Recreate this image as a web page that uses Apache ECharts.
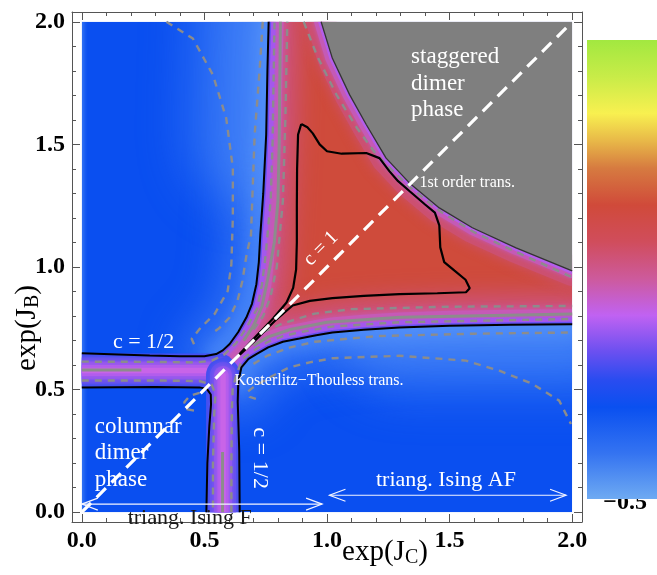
<!DOCTYPE html>
<html>
<head>
<meta charset="utf-8">
<script src="https://cdn.jsdelivr.net/npm/echarts@6/dist/echarts.min.js"></script>
<style>
  html, body { margin: 0; padding: 0; background: #fff; }
  #chart { width: 657px; height: 575px; }
</style>
</head>
<body>
<div id="chart"></div>
<script>
// tick values of the frame and of the colour bar
const majorTicks = [0, 0.5, 1.0, 1.5, 2.0];
const minorTicks = [0, 0.1, 0.2, 0.3, 0.4, 0.5, 0.6, 0.7, 0.8, 0.9, 1.0,
                    1.1, 1.2, 1.3, 1.4, 1.5, 1.6, 1.7, 1.8, 1.9, 2.0];
const barTicks = [-0.5, 0, 0.5, 1.0, 1.5, 2.0];

// colour scale (value -> colour)
const scaleValues = [-0.5, -0.25, 0.0, 0.15, 0.3, 0.5, 0.7, 0.9, 1.1, 1.3, 1.45, 1.6, 1.8, 2.0];
const scaleColors = ['#6eaaf2', '#3473f1', '#0a50f0', '#2a4cf0', '#6a50f0', '#c062f2', '#cd5a9c',
                     '#d04d5c', '#d04a3a', '#d67a40', '#e8b848', '#f8f050', '#c8ec48', '#a2e840'];

// black phase boundaries (exp(J_C), exp(J_B))
const lineUpperLeft = [[0.762, 2.0], [0.757, 1.80], [0.752, 1.54], [0.740, 1.30], [0.728, 1.13],
  [0.722, 1.02], [0.712, 0.93], [0.694, 0.85], [0.671, 0.794], [0.638, 0.735], [0.603, 0.686],
  [0.575, 0.660], [0.548, 0.645], [0.50, 0.636], [0.40, 0.636], [0.277, 0.639], [0.15, 0.643], [0.0, 0.648]];
const lineLowerRight = [[0.644, 0.0], [0.642, 0.25], [0.636, 0.45], [0.638, 0.53], [0.651, 0.591],
  [0.68, 0.625], [0.712, 0.645], [0.76, 0.672], [0.82, 0.695], [0.888, 0.708], [0.956, 0.722],
  [1.022, 0.733], [1.15, 0.744], [1.295, 0.753], [1.5, 0.760], [1.75, 0.764], [2.0, 0.767]];
const lineLowerLeft = [[0.0, 0.509], [0.3, 0.511], [0.48, 0.509], [0.51, 0.503], [0.526, 0.48],
  [0.527, 0.44], [0.52, 0.35], [0.512, 0.2], [0.508, 0.0]];
const contourRed = [[0.895, 1.583], [0.882, 1.54], [0.878, 1.40], [0.877, 1.25], [0.877, 1.10],
  [0.874, 0.99], [0.862, 0.915], [0.835, 0.855], [0.78, 0.79], [0.70, 0.706], [0.62, 0.62],
  [0.706, 0.699], [0.79, 0.783], [0.86, 0.843], [0.93, 0.862], [1.022, 0.873], [1.15, 0.882],
  [1.295, 0.889], [1.45, 0.893], [1.567, 0.897], [1.582, 0.913], [1.565, 0.948], [1.52, 0.985],
  [1.478, 1.02], [1.462, 1.08], [1.458, 1.17], [1.44, 1.222], [1.40, 1.255], [1.336, 1.31],
  [1.29, 1.35], [1.255, 1.39], [1.214, 1.444], [1.16, 1.465], [1.06, 1.462], [1.0, 1.472],
  [0.97, 1.50], [0.942, 1.545], [0.92, 1.57], [0.895, 1.583]];
const firstOrderLine = [[0.976, 2.0], [1.022, 1.851], [1.092, 1.703], [1.160, 1.581], [1.241, 1.444],
  [1.336, 1.343], [1.458, 1.241], [1.593, 1.160], [1.771, 1.078], [2.0, 0.984]];
const crossing = [0.572, 0.575];
const bandH = [[0.0, 0.578], [0.56, 0.578]];
const bandV = [[0.576, 0.0], [0.576, 0.56]];

// grey contours
const dashUpperLeftOuter = [[0.345, 2.0], [0.453, 1.932], [0.535, 1.783], [0.589, 1.607], [0.616, 1.404],
  [0.616, 1.2], [0.61, 1.011], [0.595, 0.902], [0.542, 0.809], [0.481, 0.748], [0.448, 0.707], [0.46, 0.679]];
const dashUpperLeftInner = [[0.738, 2.0], [0.725, 1.8], [0.705, 1.54], [0.69, 1.13], [0.672, 1.05],
  [0.655, 0.943], [0.635, 0.862], [0.603, 0.794], [0.56, 0.75], [0.525, 0.725]];
const dashBandTop = [[0.0, 0.614], [0.3, 0.613], [0.47, 0.611], [0.53, 0.618], [0.58, 0.642], [0.63, 0.69],
  [0.67, 0.75], [0.715, 0.83], [0.735, 0.93], [0.75, 1.05], [0.77, 1.27], [0.778, 1.5], [0.786, 2.0]];
const dashBandBottom = [[0.0, 0.537], [0.3, 0.537], [0.48, 0.535], [0.53, 0.52], [0.545, 0.48],
  [0.54, 0.4], [0.535, 0.2], [0.535, 0.0]];
const dashBandRight = [[0.61, 0.0], [0.61, 0.2], [0.612, 0.42], [0.615, 0.5], [0.63, 0.56], [0.655, 0.625],
  [0.71, 0.665], [0.76, 0.695], [0.82, 0.718], [0.9, 0.736], [1.02, 0.757], [1.3, 0.775], [2.0, 0.788]];
const dashRedLeft = [[0.70, 0.745], [0.74, 0.80], [0.77, 0.88], [0.795, 1.0], [0.82, 1.27], [0.83, 1.6], [0.838, 2.0]];
const dashRedBottom = [[0.74, 0.735], [0.82, 0.77], [0.95, 0.81], [1.1, 0.828], [1.5, 0.838], [2.0, 0.841]];
const dashLowerRightInner = [[0.70, 0.605], [0.76, 0.64], [0.85, 0.672], [0.95, 0.695], [1.2, 0.718],
  [1.6, 0.728], [2.0, 0.733]];
const dashLowerRightOuter = [[0.71, 0.462], [0.685, 0.47], [0.675, 0.49], [0.70, 0.51], [0.766, 0.55],
  [0.847, 0.591], [0.929, 0.611], [1.024, 0.628], [1.295, 0.638], [1.567, 0.618], [1.703, 0.577],
  [1.837, 0.524], [1.947, 0.455], [1.995, 0.36]];
const dashLowerLeftLoop = [[0.48, 0.487], [0.44, 0.474], [0.418, 0.448], [0.43, 0.42], [0.47, 0.412]];
const dashFirstOrder = [[0.905, 2.0], [0.96, 1.86], [1.04, 1.70], [1.12, 1.57], [1.20, 1.46], [1.27, 1.39],
  [1.34, 1.325], [1.46, 1.228], [1.6, 1.142], [1.77, 1.062], [2.0, 0.958]];
const solidBandH = [[0.0, 0.58], [0.243, 0.58]];
const solidBandV = [[0.574, 0.0], [0.574, 0.245]];
const solidRedLeft = [[0.66, 0.70], [0.70, 0.76], [0.735, 0.84], [0.76, 0.96], [0.785, 1.1], [0.80, 1.27],
  [0.805, 1.5], [0.81, 2.0]];
const solidRedBottom = [[0.70, 0.68], [0.76, 0.715], [0.85, 0.745], [1.0, 0.775], [1.3, 0.795], [2.0, 0.808]];

// lighter blue patches next to the boundaries
const glowUpperLeft = [[0.70, 2.1], [0.68, 1.5]];
const glowLowerRight = [[1.3, 0.74], [2.1, 0.74]];

// c = 1 line and the two Ising ranges along exp(J_C)
const diagonal = [[0.0, 0.0], [1.98, 1.98]];
const isingF = [0.0, 0.98];
const isingAF = [1.01, 1.975];

const serif = "'Liberation Serif', 'DejaVu Serif', serif";
const frame = '#555';
const OFF = 1500; // shapes drawn off-canvas so that only their blurred shadow shows

function fieldItem(params, api) {
  const P = pts => pts.map(p => api.coord(p));
  const shape = pts => ({ points: P(pts) });
  const band = (pts, layers) => layers.map(l => ({
    type: 'polyline', shape: shape(pts),
    style: { fill: null, stroke: l[1], lineWidth: l[0], lineJoin: 'round', lineCap: 'round',
             shadowBlur: l[2] || 0, shadowColor: l[1] }
  }));
  const glow = (pts, layers) => layers.map(l => ({
    type: 'polyline', shape: { points: P(pts).map(p => [p[0] + OFF, p[1]]) },
    style: { fill: null, stroke: '#000', lineWidth: l[0], lineJoin: 'round', lineCap: 'round',
             shadowBlur: l[2], shadowColor: l[1], shadowOffsetX: -OFF }
  }));
  const clipped = (pts, children) => ({ type: 'group', clipPath: { type: 'polygon', shape: shape(pts) }, children });
  const square = [[0, 0], [2, 0], [2, 2], [0, 2]];
  const aUpper = lineUpperLeft.filter(p => p[0] >= 0.54);
  const bRight = lineLowerRight.filter(p => p[1] >= 0.52);
  const ulPoly = [[0, 2]].concat(lineUpperLeft);
  const lrPoly = lineLowerRight.concat([[2, 0]]);
  const redPoly = aUpper.concat([crossing], bRight, [[2, 2]]);
  const grayPoly = firstOrderLine.concat([[2, 2]]);

  const lightBlue = [[70, 'rgba(80,140,247,0.55)', 40], [24, 'rgba(100,160,250,0.45)', 16]];
  const wideGlow = [[120, 'rgba(95,155,250,0.45)', 50]];
  const edgeStrip = [[3, 'rgba(100,160,248,0.8)', 4]];
  const redGlow = [[56, 'rgba(204,84,140,0.95)', 26]];
  const redEdge = [[30, '#c65ab6', 8], [14, '#a458ec', 5], [5, '#6552f2', 0]];
  const firstEdge = [[30, '#cc5070', 12], [14, '#c45ab6', 5], [6, '#b45eea', 0]];
  const bandLayers = [[34, '#4250f0', 0], [26, '#6252f0', 4], [18, '#8c57ee', 5],
                      [11, '#b25ded', 5], [5, '#c864e8', 2]];

  return {
    type: 'group',
    clipPath: { type: 'polygon', shape: shape(square) },
    children: [
      { type: 'polygon', shape: shape(square), style: { fill: '#0a4ff0' } },
      { type: 'group', children: glow([[0, -0.1], [0, 2.1]], edgeStrip) },
      clipped(ulPoly, glow(aUpper, lightBlue).concat(glow(glowUpperLeft, wideGlow))),
      clipped(lrPoly, glow(bRight, lightBlue).concat(glow(glowLowerRight, wideGlow))),
      clipped(redPoly, [{ type: 'polygon', shape: shape(redPoly), style: { fill: '#cf4b3b' } }]
        .concat(glow(aUpper, redGlow), glow(bRight, redGlow),
                band(aUpper, redEdge), band(bRight, redEdge), band(firstOrderLine, firstEdge))),
      { type: 'group', children: band(bandH, bandLayers).concat(band(bandV, bandLayers)) },
      { type: 'polygon', shape: shape(grayPoly), style: { fill: '#7f7f7f' } }
    ]
  };
}

function barItem(params, api) {
  const top = api.coord([0, 2.0]);
  const bottom = api.coord([1, -0.5]);
  const stops = scaleValues.map((v, i) => ({ offset: (2.0 - v) / 2.5, color: scaleColors[i] }))
    .sort((a, b) => a.offset - b.offset);
  return {
    type: 'rect',
    shape: { x: top[0], y: top[1], width: bottom[0] - top[0], height: bottom[1] - top[1] },
    style: { fill: new echarts.graphic.LinearGradient(0, 0, 0, 1, stops) }
  };
}

function arrowItem(params, api) {
  const a = api.coord([api.value(0), api.value(2)]);
  const b = api.coord([api.value(1), api.value(2)]);
  const h = 16, w = 6;
  const st = { stroke: '#f4f4ff', lineWidth: 1.2, fill: null };
  return {
    type: 'group',
    children: [
      { type: 'line', shape: { x1: a[0], y1: a[1], x2: b[0], y2: b[1] }, style: st },
      { type: 'polyline', shape: { points: [[a[0] + h, a[1] - w], a, [a[0] + h, a[1] + w]] }, style: st },
      { type: 'polyline', shape: { points: [[b[0] - h, b[1] - w], b, [b[0] - h, b[1] + w]] }, style: st }
    ]
  };
}

// text placed inside the plot
const notes = [
  { text: 'staggered', at: [1.343, 1.858], size: 23 },
  { text: 'dimer', at: [1.343, 1.748], size: 23 },
  { text: 'phase', at: [1.343, 1.642], size: 23 },
  { text: '1st order trans.', at: [1.377, 1.343], size: 16 },
  { text: 'c = 1', at: [0.975, 1.075], size: 20, rot: 45, align: 'center' },
  { text: 'c = 1/2', at: [0.127, 0.692], size: 22 },
  { text: 'c = 1/2', at: [0.725, 0.22], size: 22, rot: -90, align: 'center' },
  { text: 'Kosterlitz\u2212Thouless trans.', at: [0.623, 0.537], size: 16 },
  { text: 'columnar', at: [0.053, 0.346], size: 23 },
  { text: 'dimer', at: [0.053, 0.240], size: 23 },
  { text: 'phase', at: [0.053, 0.130], size: 23 },
  { text: 'triang. Ising AF', at: [1.485, 0.13], size: 22, align: 'center' },
  { text: 'triang. Ising F', at: [0.44, -0.024], size: 22, align: 'center', color: '#1a1a1a' }
];

function noteItem(params, api) {
  const n = notes[params.dataIndex];
  const p = api.coord(n.at);
  return {
    type: 'text', x: p[0], y: p[1], rotation: (n.rot || 0) * Math.PI / 180,
    style: { text: n.text, fill: n.color || '#fff', font: n.size + 'px ' + serif,
             align: n.align || 'left', verticalAlign: 'middle' }
  };
}

function contour(data, color, width, type, z) {
  return { type: 'line', xAxisIndex: 0, yAxisIndex: 0, data, symbol: 'none', silent: true,
           lineStyle: { color, width, type: type || 'solid', cap: 'butt' }, z: z || 3 };
}
const dashed = d => contour(d, '#8c8c8c', 2.4, [7, 6]);
const solidGray = d => contour(d, '#8c8c8c', 3);
const black = d => contour(d, '#000', 2, 'solid', 4);

function frameAxis(pos, ticks, len, showLine, labels) {
  return {
    gridIndex: 0, type: 'value', position: pos, min: -0.04, max: 2.04,
    axisLine: { show: showLine, onZero: false, lineStyle: { color: frame, width: 1 } },
    axisTick: { show: true, inside: true, length: len, customValues: ticks, lineStyle: { color: frame } },
    axisLabel: labels ? { customValues: majorTicks, formatter: v => v.toFixed(1), color: '#000',
      fontFamily: serif, fontWeight: 'bold', fontSize: 24, margin: 7 } : { show: false },
    splitLine: { show: false }
  };
}

const chart = echarts.init(document.getElementById('chart'));
chart.setOption({
  animation: false,
  grid: [
    { left: 72, right: 75, top: 12, bottom: 53 },
    { left: 587, right: 0, top: 40, bottom: 76 },
    { left: 587, right: 6, top: 56, bottom: 72 }
  ],
  xAxis: [
    frameAxis('bottom', majorTicks, 8, true, true),
    frameAxis('bottom', minorTicks, 4, false, false),
    frameAxis('top', majorTicks, 8, true, false),
    frameAxis('top', minorTicks, 4, false, false),
    { gridIndex: 1, type: 'value', min: 0, max: 1, show: false },
    { gridIndex: 2, type: 'value', min: 0, max: 1, show: false }
  ],
  yAxis: [
    frameAxis('left', majorTicks, 8, true, true),
    frameAxis('left', minorTicks, 4, false, false),
    frameAxis('right', majorTicks, 8, true, false),
    frameAxis('right', minorTicks, 4, false, false),
    { gridIndex: 1, type: 'value', min: -0.5, max: 2.0, show: false },
    { gridIndex: 2, type: 'value', position: 'right', min: -0.5, max: 2.0,
      axisLine: { show: false }, axisTick: { show: false }, splitLine: { show: false },
      axisLabel: { inside: true, customValues: barTicks, margin: 4, color: '#000', fontFamily: serif,
        fontWeight: 'bold', fontSize: 24,
        formatter: v => (v < 0 ? '\u2212' : '') + Math.abs(v).toFixed(1) } }
  ],
  graphic: [
    { type: 'text', x: 385, y: 552, z: 10,
      style: { text: 'exp(J{s|C})', font: '29px ' + serif, fill: '#000', align: 'center', verticalAlign: 'middle',
        rich: { s: { fontSize: 20, fontFamily: serif, verticalAlign: 'bottom', padding: [12, 0, 0, 0] } } } },
    { type: 'text', x: 27, y: 328, rotation: Math.PI / 2, z: 10,
      style: { text: 'exp(J{s|B})', font: '29px ' + serif, fill: '#000', align: 'center', verticalAlign: 'middle',
        rich: { s: { fontSize: 20, fontFamily: serif, verticalAlign: 'bottom', padding: [12, 0, 0, 0] } } } }
  ],
  series: [
    { type: 'custom', xAxisIndex: 0, yAxisIndex: 0, data: [[0, 0]], renderItem: fieldItem, silent: true, z: 1 },
    dashed(dashUpperLeftOuter), dashed(dashUpperLeftInner), dashed(dashBandTop), dashed(dashBandBottom),
    dashed(dashBandRight), dashed(dashRedLeft), dashed(dashRedBottom), dashed(dashLowerRightInner),
    dashed(dashLowerRightOuter), dashed(dashLowerLeftLoop), dashed(dashFirstOrder),
    solidGray(solidBandH), solidGray(solidBandV), solidGray(solidRedLeft), solidGray(solidRedBottom),
    black(lineUpperLeft), black(lineLowerRight), black(lineLowerLeft), contour(contourRed, '#000', 2.2, 'solid', 4),
    contour(firstOrderLine, '#333', 1.3, 'solid', 4),
    contour(diagonal, '#fff', 3.2, [13, 8], 5),
    { type: 'custom', xAxisIndex: 0, yAxisIndex: 0, renderItem: arrowItem, silent: true, z: 6, clip: false,
      data: [[isingF[0], isingF[1], 0.033], [isingAF[0], isingAF[1], 0.069]] },
    { type: 'custom', xAxisIndex: 0, yAxisIndex: 0, renderItem: noteItem, silent: true, z: 7, clip: false,
      data: notes.map(n => n.at) },
    { type: 'custom', xAxisIndex: 4, yAxisIndex: 4, renderItem: barItem, silent: true, data: [[0, 0]] }
  ]
});
</script>
</body>
</html>
